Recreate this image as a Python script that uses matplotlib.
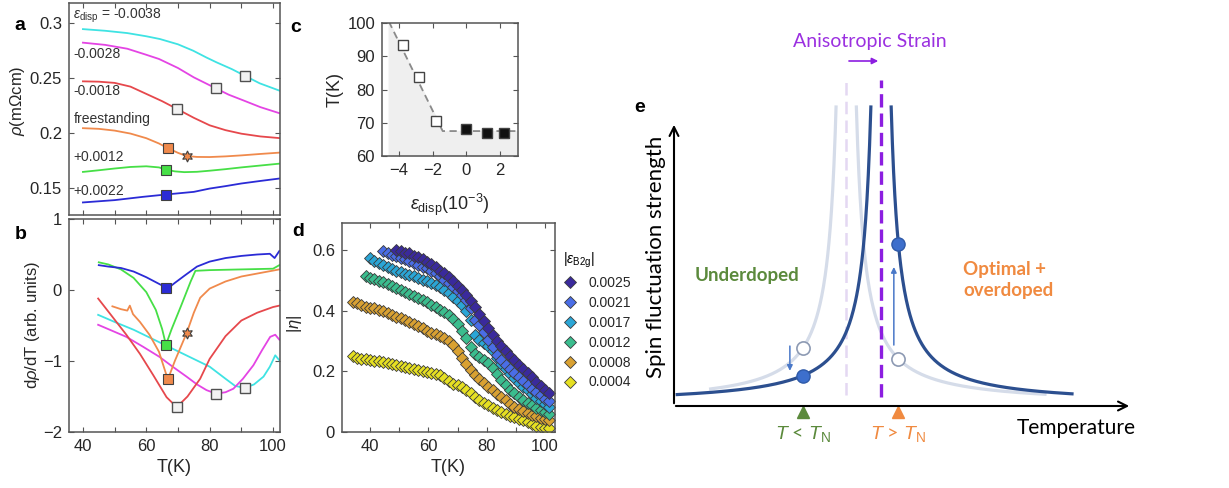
import numpy as np
import matplotlib
matplotlib.use('Agg')
import matplotlib.pyplot as plt
from matplotlib.lines import Line2D
from matplotlib.ticker import FuncFormatter

plt.rcParams['font.family'] = ['Liberation Sans', 'DejaVu Sans']
plt.rcParams['mathtext.fontset'] = 'custom'
plt.rcParams['mathtext.rm'] = 'Liberation Sans'
plt.rcParams['mathtext.it'] = 'Liberation Sans:italic'
plt.rcParams['mathtext.bf'] = 'Liberation Sans:bold'

W, H = 1229, 488

# ---------------- panel a: rho(T) for each strain ----------------
strain_labels = [r'$\epsilon_{\rm disp}$ = -0.0038', '-0.0028', '-0.0018',
                 'freestanding', '+0.0012', '+0.0022']
strain_colors = ['#3fe3e3', '#e444e4', '#e6484c', '#f08a4c', '#46df46', '#2b2bd6']

t_m38 = [40, 47, 54, 60, 64.3, 70, 74.8, 79, 82.2, 87, 91, 95.8, 102]
rho_m38 = [0.2943, 0.2928, 0.2907, 0.2878, 0.2853, 0.2805, 0.2747, 0.2685,
           0.2641, 0.258, 0.2521, 0.2451, 0.2385]
t_m28 = [40, 47, 54, 60, 64, 70, 75, 82, 86, 91, 96, 102]
rho_m28 = [0.282, 0.280, 0.2765, 0.271, 0.2672, 0.259, 0.2505, 0.2405,
           0.2348, 0.2292, 0.2235, 0.218]
t_m18 = [40, 45, 50, 55, 60, 65, 69.6, 75, 80, 85, 90, 96, 102]
rho_m18 = [0.2469, 0.2466, 0.2455, 0.2421, 0.2355, 0.2289, 0.222, 0.2138,
           0.207, 0.2026, 0.1994, 0.1969, 0.1954]
t_free = [40, 45, 50, 55, 60, 64, 66.7, 70, 72.7, 76, 80, 85, 90, 96, 102]
rho_free = [0.2044, 0.2038, 0.2022, 0.1995, 0.1953, 0.1905, 0.1864, 0.182,
            0.1791, 0.1783, 0.1782, 0.1788, 0.1797, 0.181, 0.1822]
t_p12 = [40, 45, 50, 55, 60, 64, 66.2, 69, 72, 76, 80, 85, 90, 96, 102]
rho_p12 = [0.1647, 0.1662, 0.1678, 0.1692, 0.1698, 0.1688, 0.1668, 0.1652,
           0.1645, 0.1648, 0.1658, 0.1672, 0.1688, 0.1705, 0.1722]
t_p22 = [40, 50, 59, 66.2, 75, 80, 85, 90, 96, 102]
rho_p22 = [0.137, 0.1391, 0.1421, 0.1442, 0.1466, 0.1496, 0.1518, 0.1542,
           0.1565, 0.1587]

# ---------------- panel b: d rho / dT ----------------
tb_m38 = [44.8, 50, 56, 62, 68, 74, 80, 85, 88, 91, 94, 97, 99, 100.7, 102]
drho_m38 = [-0.35, -0.45, -0.56, -0.69, -0.82, -0.95, -1.08, -1.25, -1.35,
            -1.38, -1.33, -1.22, -1.08, -0.92, -0.99]
tb_m28 = [44.8, 49, 53.7, 59, 64.1, 68, 72.7, 76, 79, 82, 85, 87.5, 90.5,
          93.8, 96.5, 99.1, 100.7, 102]
drho_m28 = [-0.49, -0.57, -0.66, -0.80, -0.94, -1.07, -1.22, -1.33, -1.41,
            -1.46, -1.44, -1.39, -1.25, -1.06, -0.85, -0.66, -0.63, -0.7]
tb_m18 = [44.8, 49, 53.7, 58, 62.2, 66.4, 69.6, 73, 77, 80, 85, 90, 95, 100, 102]
drho_m18 = [-0.12, -0.36, -0.63, -0.90, -1.2, -1.51, -1.65, -1.5, -1.25,
            -0.97, -0.65, -0.43, -0.32, -0.24, -0.22]
tb_free = [49.3, 52, 54, 54.8, 55.8, 58, 61, 64, 66.8, 69, 72.7, 75, 77, 80,
           85, 90, 96, 102]
drho_free = [-0.23, -0.27, -0.29, -0.22, -0.34, -0.45, -0.63, -0.87, -1.26,
             -1.0, -0.61, -0.32, -0.11, 0.02, 0.12, 0.19, 0.24, 0.29]
tb_p12 = [45, 48, 52, 56, 60, 63, 65, 66.2, 68, 71, 74, 75.5, 80, 90, 100, 102]
drho_p12 = [0.39, 0.36, 0.29, 0.17, -0.03, -0.28, -0.55, -0.77, -0.55, -0.22,
            0.12, 0.27, 0.28, 0.29, 0.30, 0.35]
tb_p22 = [45, 48, 52, 56, 60, 63, 66, 67, 69, 72, 76, 80, 85, 90, 95, 99,
          100.5, 102]
drho_p22 = [0.35, 0.33, 0.31, 0.26, 0.18, 0.11, 0.04, 0.03, 0.10, 0.20, 0.33,
            0.40, 0.45, 0.48, 0.50, 0.51, 0.45, 0.55]

# transition temperatures marked on each curve (open = compressive side)
tn_t = [91, 82, 69.6, 66.7, 66.2, 66.2]
tn_rho = [0.2521, 0.2405, 0.222, 0.1864, 0.1668, 0.1442]
tn_t_b = [91, 82, 69.6, 66.8, 66.2, 66.2]
tn_drho = [-1.38, -1.46, -1.65, -1.26, -0.77, 0.03]
tn_open = [True, True, True, False, False, False]
star_t, star_rho, star_drho = 72.7, 0.1791, -0.61

# ---------------- panel c: T_N vs strain ----------------
eps_c = [-3.74, -2.79, -1.78, 0.0, 1.21, 2.24]
tn_c = [93.4, 83.9, 70.5, 68.0, 66.8, 66.8]
guide_eps = [-4.6, -1.4, 3.2]
guide_t = [100.5, 67.5, 67.5]

# ---------------- panel d: nematicity |eta|(T) ----------------
t_eta = [34, 35.5, 37, 38.5, 40, 41.5, 43, 44.5, 46, 47.5, 49, 50.5, 52, 53.5,
         55, 56.5, 58, 59.5, 61, 62.5, 64, 65.5, 67, 68.5, 70, 71.5, 73, 74.5,
         76, 77.5, 79, 80.5, 82, 83.5, 85, 86.5, 88, 89.5, 91, 92.5, 94, 95.5,
         97, 98.5, 100, 101.5]
n = np.nan
eta_25 = [n] * 10 + [0.600, 0.598, 0.592, 0.590, 0.582, 0.578, 0.570, 0.562,
                     0.553, 0.545, 0.532, 0.525, 0.513, 0.500, 0.483, 0.468,
                     0.452, 0.432, 0.413, 0.390, 0.365, 0.345, 0.320, 0.300,
                     0.284, 0.268, 0.252, 0.237, 0.222, 0.208, 0.195, 0.180,
                     0.166, 0.152, 0.138, 0.128]
eta_21 = [n] * 7 + [0.598, 0.592, 0.586, 0.580, 0.575, 0.570, 0.565, 0.558,
                    0.552, 0.545, 0.540, 0.532, 0.524, 0.515, 0.503, 0.492,
                    0.480, 0.466, 0.452, 0.435, 0.408, 0.370, 0.352, 0.330,
                    0.305, 0.280, 0.255, 0.238, 0.222, 0.208, 0.194, 0.180,
                    0.168, 0.155, 0.143, 0.132, 0.121, 0.110, 0.102]
eta_17 = [n] * 4 + [0.575, 0.566, 0.558, 0.552, 0.545, 0.538, 0.532, 0.527,
                    0.522, 0.518, 0.514, 0.508, 0.503, 0.498, 0.493, 0.486,
                    0.478, 0.470, 0.458, 0.446, 0.432, 0.418, 0.398, 0.370,
                    0.320, 0.305, 0.295, 0.283, 0.266, 0.245, 0.225, 0.207,
                    0.192, 0.178, 0.163, 0.150, 0.138, 0.125, 0.113, 0.102,
                    0.092, 0.083]
eta_12 = [n] * 3 + [0.514, 0.510, 0.505, 0.500, 0.494, 0.488, 0.482, 0.475,
                    0.468, 0.462, 0.455, 0.449, 0.442, 0.436, 0.428, 0.420,
                    0.412, 0.403, 0.395, 0.386, 0.372, 0.355, 0.335, 0.310,
                    0.280, 0.258, 0.248, 0.238, 0.228, 0.212, 0.192, 0.172,
                    0.155, 0.140, 0.128, 0.117, 0.106, 0.096, 0.088, 0.080,
                    0.072, 0.065, 0.060]
eta_08 = [0.430, 0.425, 0.420, 0.414, 0.410, 0.408, 0.404, 0.398, 0.392, 0.386,
          0.381, 0.376, 0.370, 0.364, 0.357, 0.350, 0.343, 0.335, 0.328, 0.322,
          0.316, 0.310, 0.302, 0.288, 0.268, 0.245, 0.225, 0.205, 0.188, 0.175,
          0.162, 0.150, 0.138, 0.127, 0.115, 0.104, 0.094, 0.084, 0.076, 0.069,
          0.062, 0.057, 0.052, 0.047, 0.043, 0.040]
eta_04 = [0.250, 0.244, 0.240, 0.242, 0.238, 0.236, 0.234, 0.230, 0.227, 0.224,
          0.221, 0.218, 0.214, 0.211, 0.207, 0.204, 0.200, 0.197, 0.194, 0.192,
          0.188, 0.178, 0.168, 0.160, 0.154, 0.147, 0.139, 0.128, 0.116, 0.104,
          0.095, 0.088, 0.080, 0.072, 0.065, 0.059, 0.054, 0.049, 0.044, 0.040,
          0.032, 0.025, 0.019, 0.015, 0.012, 0.012]
eta_labels = ['0.0025', '0.0021', '0.0017', '0.0012', '0.0008', '0.0004']
eta_colors = ['#3a2a9c', '#4a6de6', '#2ba6d6', '#3bbd8e', '#d9a132', '#e6e022']

# ---------------- panel e: schematic ----------------
tn_before = 37.6   # T_N before strain (schematic units)
tn_after = 45.2    # T_N after strain
t_low, t_high = 28.1, 49.0


def px_axes(fig, left, top, right, bottom):
    return fig.add_axes([left / W, 1 - bottom / H, (right - left) / W, (bottom - top) / H])


def matlab_style(ax):
    for s in ax.spines.values():
        s.set_color('#555555')
        s.set_linewidth(1.1)
    ax.tick_params(direction='in', top=True, right=True, length=3.5, width=0.8,
                   color='#555555', labelsize=12, labelcolor='#262626', pad=5)


fig = plt.figure(figsize=(W / 100, H / 100), dpi=100)
fmt_every20 = FuncFormatter(lambda v, p: f'{v:g}' if round(v) % 20 == 0 else '')

# panel a
ax_a = px_axes(fig, 69, 3, 280, 215)
matlab_style(ax_a)
curves_a = [(t_m38, rho_m38), (t_m28, rho_m28), (t_m18, rho_m18),
            (t_free, rho_free), (t_p12, rho_p12), (t_p22, rho_p22)]
for (t, r), c in zip(curves_a, strain_colors):
    ax_a.plot(t, r, color=c, lw=1.3)
for i, c in enumerate(strain_colors):
    if tn_open[i]:
        ax_a.plot(tn_t[i], tn_rho[i], 's', ms=6.5, mfc='#f2f2f2', mec='#505050', mew=1.0)
    else:
        ax_a.plot(tn_t[i], tn_rho[i], 's', ms=6.5, mfc=c, mec='#404040', mew=0.8)
ax_a.plot(star_t, star_rho, marker=(6, 1, 0), ms=8, mfc=strain_colors[3], mec='#404040', mew=0.8)
ax_a.set_xlim(35.6, 102.2)
ax_a.set_ylim(0.1256, 0.318)
ax_a.set_xticks(range(40, 101, 10))
ax_a.xaxis.set_major_formatter(FuncFormatter(lambda v, p: ''))
ax_a.set_yticks([0.15, 0.2, 0.25, 0.3])
ax_a.yaxis.set_major_formatter(FuncFormatter(lambda v, p: f'{v:g}'))
ax_a.set_ylabel(r'$\rho$(m$\Omega$cm)', fontsize=12, color='#262626')
ax_a.yaxis.set_label_coords(-0.198, 0.54)
label_y = [0.3063, 0.272, 0.2385, 0.2123, 0.178, 0.1472]
for lab, y in zip(strain_labels, label_y):
    ax_a.text(37.0, y, lab, fontsize=10, color='#333333', va='center')

# panel b
ax_b = px_axes(fig, 69, 219, 280, 432)
matlab_style(ax_b)
curves_b = [(tb_m38, drho_m38), (tb_m28, drho_m28), (tb_m18, drho_m18),
            (tb_free, drho_free), (tb_p12, drho_p12), (tb_p22, drho_p22)]
for (t, d), c in zip(curves_b, strain_colors):
    ax_b.plot(t, d, color=c, lw=1.3)
for i, c in enumerate(strain_colors):
    if tn_open[i]:
        ax_b.plot(tn_t_b[i], tn_drho[i], 's', ms=6.5, mfc='#f2f2f2', mec='#505050', mew=1.0)
    else:
        ax_b.plot(tn_t_b[i], tn_drho[i], 's', ms=6.5, mfc=c, mec='#404040', mew=0.8)
ax_b.plot(star_t, star_drho, marker=(6, 1, 0), ms=8, mfc=strain_colors[3], mec='#404040', mew=0.8)
ax_b.set_xlim(35.6, 102.2)
ax_b.set_ylim(-2, 1)
ax_b.set_xticks(range(40, 101, 10))
ax_b.xaxis.set_major_formatter(fmt_every20)
ax_b.set_yticks([-2, -1, 0, 1])
ax_b.set_xlabel('T(K)', fontsize=13, color='#262626', labelpad=4)
ax_b.set_ylabel(r'd$\rho$/dT (arb. units)', fontsize=12, color='#262626')
ax_b.yaxis.set_label_coords(-0.127, 0.5)

# panel c
ax_c = px_axes(fig, 382, 23, 518, 156)
matlab_style(ax_c)
ax_c.fill_between(guide_eps, guide_t, 0, color='#efefef', zorder=0)
ax_c.plot(guide_eps, guide_t, ls=(0, (4, 2.5)), color='#8a8a8a', lw=1.3)
for e, t in zip(eps_c, tn_c):
    filled = e >= 0
    ax_c.plot(e, t, 's', ms=7.5, mfc='#111111' if filled else 'white',
              mec='#444444', mew=1.0)
ax_c.set_xlim(-5.0, 3.07)
ax_c.set_ylim(60, 100)
ax_c.set_xticks([-4, -2, 0, 2])
ax_c.set_yticks([60, 70, 80, 90, 100])
ax_c.set_ylabel('T(K)', fontsize=13, color='#262626')
ax_c.yaxis.set_label_coords(-0.28, 0.5)
ax_c.set_xlabel(r'$\epsilon_{\rm disp}$(10$^{-3}$)', fontsize=13, color='#262626')
ax_c.xaxis.set_label_coords(0.5, -0.27)

# panel d
ax_d = px_axes(fig, 342, 223, 555, 432)
matlab_style(ax_d)
series_d = [eta_25, eta_21, eta_17, eta_12, eta_08, eta_04]
handles = []
for eta, c in list(zip(series_d, eta_colors))[::-1]:
    ax_d.plot(t_eta, eta, 'D', ms=5.8, mfc=c, mec='#3a3a3a', mew=0.6, ls='none')
for c, lab in zip(eta_colors, eta_labels):
    handles.append(Line2D([], [], marker='D', ms=5.8, mfc=c, mec='#3a3a3a', mew=0.6,
                          ls='none', label=lab))
ax_d.set_xlim(30.4, 103.4)
ax_d.set_ylim(0, 0.69)
ax_d.set_xticks(range(40, 101, 10))
ax_d.xaxis.set_major_formatter(fmt_every20)
ax_d.set_yticks([0, 0.2, 0.4, 0.6])
ax_d.yaxis.set_major_formatter(FuncFormatter(lambda v, p: f'{v:g}'))
ax_d.set_xlabel('T(K)', fontsize=13, color='#262626', labelpad=4)
ax_d.set_ylabel(r'|$\eta$|', fontsize=12, color='#262626')
ax_d.yaxis.set_label_coords(-0.18, 0.52)
leg = ax_d.legend(handles=handles, loc='upper left', bbox_to_anchor=(1.0, 0.905),
                  frameon=False, fontsize=10, labelspacing=0.42, handletextpad=0.8,
                  handlelength=1.0, borderaxespad=0.2,
                  title=r'|$\epsilon_{\rm B2g}$|', title_fontsize=10)
leg._legend_box.align = 'left'
for txt in leg.get_texts():
    txt.set_color('#262626')

# panel letters
for lab, x, y in [('a', 20, 25), ('b', 21, 234), ('c', 296, 27), ('d', 298, 231)]:
    fig.text(x / W, 1 - y / H, lab, fontsize=14, fontweight='bold', ha='center', va='center')

# panel e: schematic of spin-fluctuation strength vs temperature
ax_e = px_axes(fig, 674, 100, 1132, 406)
ax_e.set_xlim(0, 100)
ax_e.set_ylim(0, 306)
ax_e.axis('off')


def strength(t, t_n):
    return 2 + 742 / np.abs(t - t_n) ** 1.15


def branches(t_n, t_start, t_end):
    d_min = (742 / 297) ** (1 / 1.15)
    left = np.linspace(t_start, t_n - d_min, 300)
    right = np.linspace(t_n + d_min, t_end, 300)
    return (left, strength(left, t_n)), (right, strength(right, t_n))


light = '#d5dce9'
dark = '#2c4f8f'
purple = '#8c1ee0'
green = '#5b8a3c'
orange = '#f08a40'
for t, s in branches(tn_before, 8, 81):
    ax_e.plot(t, s, color=light, lw=2.3, clip_on=False)
ax_e.plot([tn_before, tn_before], [11, 326], color='#e4d8f2', lw=1.8,
          ls=(0, (5, 2.5)), clip_on=False)
ax_e.plot([tn_after, tn_after], [9, 326], color=purple, lw=2.4,
          ls=(0, (4, 1.8)), clip_on=False)
for t, s in branches(tn_after, 0.7, 86.9):
    ax_e.plot(t, s, color=dark, lw=2.3, clip_on=False)

for t in (t_low, t_high):
    ax_e.plot(t, strength(t, tn_before), 'o', ms=9.5, mfc='white', mec='#8d9ab3',
              mew=1.2, clip_on=False, zorder=5)
    ax_e.plot(t, strength(t, tn_after), 'o', ms=9.5, mfc='#3d6fcc', mec='#2f5aa8',
              mew=1.0, clip_on=False, zorder=6)

blue_arrow = dict(arrowstyle='-|>', color='#4a78c8', lw=1.1, mutation_scale=8)
ax_e.annotate('', xy=(t_low - 2.8, strength(t_low, tn_after) + 2),
              xytext=(t_low - 2.8, strength(t_low, tn_before) + 5),
              arrowprops=blue_arrow, annotation_clip=False)
ax_e.annotate('', xy=(t_high - 1.0, strength(t_high, tn_after) - 20),
              xytext=(t_high - 1.0, strength(t_high, tn_before) + 11),
              arrowprops=blue_arrow, annotation_clip=False)

axis_arrow = dict(arrowstyle='->', color='black', lw=1.5, mutation_scale=16)
ax_e.annotate('', xy=(0, 284), xytext=(0, 0), arrowprops=axis_arrow, annotation_clip=False)
ax_e.annotate('', xy=(100, 0), xytext=(-0.2, 0), arrowprops=axis_arrow, annotation_clip=False)

ax_e.annotate('', xy=(45.2, 345), xytext=(37.6, 345),
              arrowprops=dict(arrowstyle='-|>', color=purple, lw=1.2, mutation_scale=9),
              annotation_clip=False)
ax_e.text(42.8, 364, 'Anisotropic Strain', color='#9b30e0', fontsize=14,
          family='Lato', ha='center', va='center')
ax_e.text(-7.4, 298, 'e', fontsize=14, fontweight='bold', ha='center', va='center')
ax_e.text(-3.9, 149, 'Spin fluctuation strength', fontsize=16, family='Lato',
          rotation=90, ha='center', va='center')
ax_e.text(74.9, -22, 'Temperature', fontsize=15, family='Lato', ha='left', va='center')
ax_e.text(15.9, 131, 'Underdoped', fontsize=13.5, family='Lato', fontweight='bold',
          color=green, ha='center', va='center')
ax_e.text(63.1, 126, 'Optimal +\noverdoped', fontsize=13.5, family='Lato',
          fontweight='bold', color=orange, ha='left', va='center', linespacing=1.35)
ax_e.plot(t_low, -6, '^', ms=8, color=green, clip_on=False)
ax_e.plot(t_high, -6, '^', ms=8, color=orange, clip_on=False)
ax_e.text(t_low, -28, r'$T$ < $T_{\rm N}$', fontsize=14, family='Lato', color=green,
          ha='center', va='center')
ax_e.text(t_high, -28, r'$T$ > $T_{\rm N}$', fontsize=14, family='Lato', color=orange,
          ha='center', va='center')

fig.savefig('out.png', dpi=100)
